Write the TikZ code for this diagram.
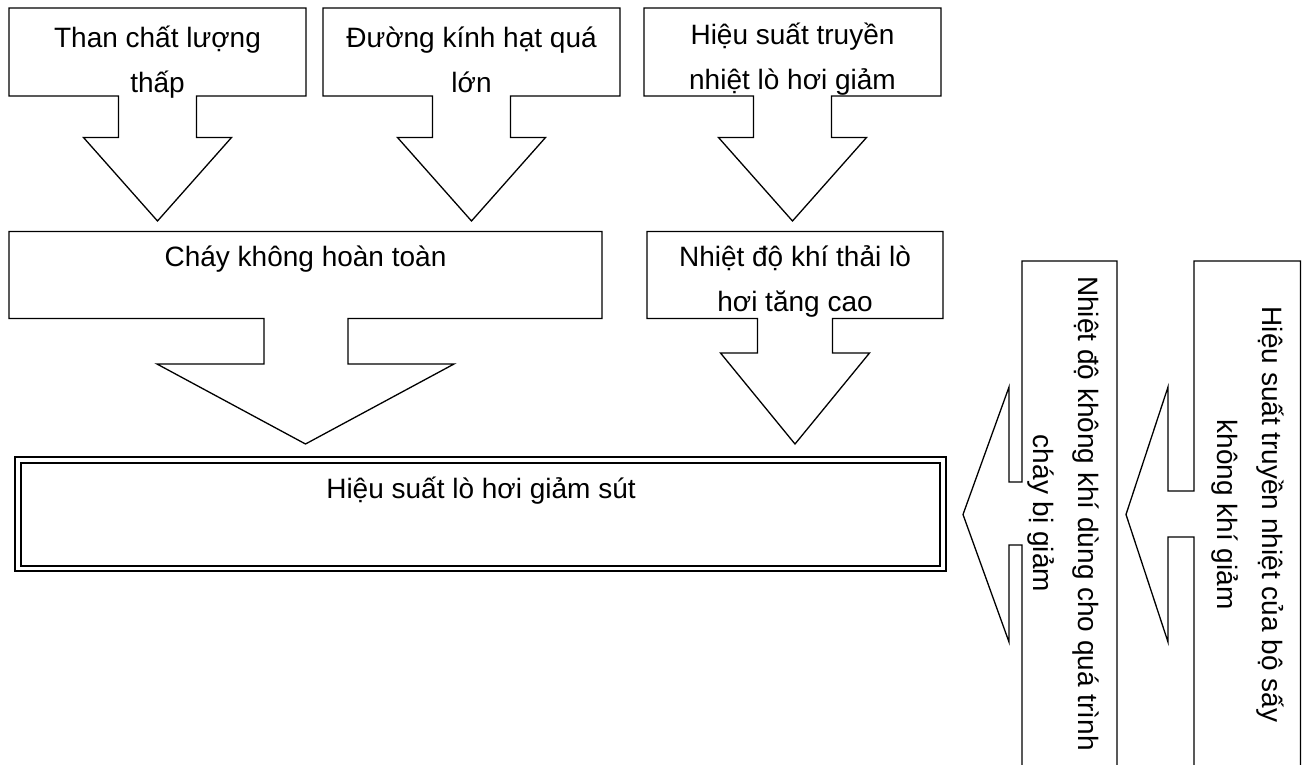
\documentclass[tikz,border=0pt]{standalone}
\usepackage{fontspec}
\setmainfont{Liberation Sans}
\begin{document}
\begin{tikzpicture}[x=1pt,y=-1pt,
  callout/.style={draw=black, fill=white, line width=1.3pt, line join=miter},
  lbl/.style={font=\fontsize{28}{45}\selectfont, align=center, inner sep=0pt, text=black}]
\useasboundingbox (0,0) rectangle (1307,764);
\fill[white] (0,0) rectangle (1307,764);
\clip (0,0) rectangle (1307,764);

% top row callouts (down arrows)
\draw[callout] (9,8) -- (306,8) -- (306,96) -- (196.5,96) -- (196.5,137.5) -- (231.5,137.5)
  -- (157.5,221) -- (83.5,137.5) -- (118.5,137.5) -- (118.5,96) -- (9,96) -- cycle;
\draw[callout] (323,8) -- (620,8) -- (620,96) -- (510.5,96) -- (510.5,137.5) -- (545.5,137.5)
  -- (471.5,221) -- (397.5,137.5) -- (432.5,137.5) -- (432.5,96) -- (323,96) -- cycle;
\draw[callout] (644,8) -- (941,8) -- (941,96) -- (831.5,96) -- (831.5,137.5) -- (866.5,137.5)
  -- (792.5,221) -- (718.5,137.5) -- (753.5,137.5) -- (753.5,96) -- (644,96) -- cycle;

% middle row callouts
\draw[callout] (9,231.5) -- (602,231.5) -- (602,318.5) -- (348,318.5) -- (348,364) -- (454,364)
  -- (305.5,444) -- (157,364) -- (264,364) -- (264,318.5) -- (9,318.5) -- cycle;
\draw[callout] (647,231.5) -- (943,231.5) -- (943,318.5) -- (832.5,318.5) -- (832.5,353) -- (869.5,353)
  -- (795,444) -- (720.5,353) -- (757.5,353) -- (757.5,318.5) -- (647,318.5) -- cycle;

% result box (double frame)
\draw[line width=2pt, fill=white] (15,457) rectangle (946,571);
\draw[line width=2pt] (21,463) rectangle (940,565.5);

% right column callouts (left arrows)
\draw[callout] (1194,261) -- (1300.5,261) -- (1300.5,800) -- (1194,800) -- (1194,537) -- (1168,537)
  -- (1168,642) -- (1126,514.5) -- (1168,387) -- (1168,491) -- (1194,491) -- cycle;
\draw[callout] (1022,261) -- (1117,261) -- (1117,800) -- (1022,800) -- (1022,545) -- (1009,545)
  -- (1009,642) -- (963,514.5) -- (1009,387) -- (1009,482) -- (1022,482) -- cycle;

% texts
\node[lbl] (t1) at (157.5,60.5) {\strut Than chất lượng\\\strut thấp};
\node[lbl] (t2) at (471.5,60.5) {\strut Đường kính hạt quá\\\strut lớn};
\node[lbl] (t3) at (792.5,57.5) {\strut Hiệu suất truyền\\\strut nhiệt lò hơi giảm};
\node[lbl] (t4) at (305.5,257.7) {\strut Cháy không hoàn toàn};
\node[lbl] (t5) at (795,280) {\strut Nhiệt độ khí thải lò\\\strut hơi tăng cao};
\node[lbl] (t6) at (481,489.5) {\strut Hiệu suất lò hơi giảm sút};
\node[lbl, rotate=-90] (t7) at (1248.5,514.5) {\strut Hiệu suất truyền nhiệt của bộ sấy\\\strut không khí giảm};
\node[lbl, rotate=-90] (t8) at (1064.5,513.5) {\strut Nhiệt độ không khí dùng cho quá trình\\\strut cháy bị giảm};
\end{tikzpicture}
\end{document}
